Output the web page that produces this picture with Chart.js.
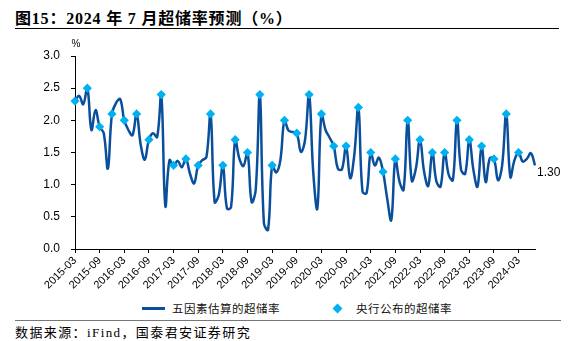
<!DOCTYPE html>
<html>
<head>
<meta charset="utf-8">
<script src="https://cdn.jsdelivr.net/npm/chart.js@4.4.1/dist/chart.umd.min.js"></script>
<style>
  body { margin: 0; background: #fff; }
  #wrap { position: relative; width: 572px; height: 341px; overflow: hidden; font-family: "Liberation Serif", "Noto Sans CJK SC", serif; }
  #title { position: absolute; left: 15px; top: 5px; font-size: 16px; font-weight: bold; color: #000; white-space: nowrap; letter-spacing: 0.8px; }
  #topRule { position: absolute; left: 15px; top: 28px; width: 544px; height: 1px; background: #000; }
  #bottomRule { position: absolute; left: 15px; top: 320px; width: 546px; height: 1px; background: #777; }
  #source { position: absolute; left: 15px; top: 322px; font-size: 13px; color: #000; white-space: nowrap; letter-spacing: 1.4px; }
  #cv { position: absolute; left: 0; top: 30px; }
  .lg { position: absolute; font-family: "Noto Sans CJK SC", sans-serif; font-size: 11.5px; color: #111; white-space: nowrap; top: 300px; letter-spacing: 0.5px; }
  #lgLine { position: absolute; left: 142px; top: 307px; width: 23px; height: 3px; background: #0a4f9c; }
  #lgDiamond { position: absolute; left: 334px; top: 305px; width: 7px; height: 7px; background: #00b0f0; transform: rotate(45deg); }
</style>
</head>
<body>
<div id="wrap">
  <div id="title">图15：2024 年 7 月超储率预测（%）</div>
  <div id="topRule"></div>
  <canvas id="cv" width="572" height="268"></canvas>
  <div id="lgLine"></div>
  <div class="lg" style="left:172px">五因素估算的超储率</div>
  <div id="lgDiamond"></div>
  <div class="lg" style="left:356px">央行公布的超储率</div>
  <div id="bottomRule"></div>
  <div id="source">数据来源：iFind，国泰君安证券研究</div>
</div>
<script>
// 月度：2015-03 ~ 2024-07
var startYear = 2015, startMonth = 3, monthCount = 113;
var months = [];
for (var i = 0; i < monthCount; i++) {
    var m = startMonth - 1 + i;
    var y = startYear + Math.floor(m / 12);
    var mm = (m % 12) + 1;
    months.push(y + '-' + (mm < 10 ? '0' + mm : mm));
}

// 五因素估算的超储率（月度）
var estValues = [
    2.30, 2.38, 2.25, 2.50, 1.85, 2.16, 1.90, 1.80, 1.25, 2.10,
    2.27, 2.33, 2.00, 1.85, 1.77, 2.10, 1.62, 1.39, 1.70, 1.80,
    1.74, 2.40, 0.67, 1.38, 1.30, 1.37, 1.27, 1.40, 1.17, 1.02,
    1.30, 1.38, 1.43, 2.10, 0.73, 0.84, 1.30, 0.63, 0.65, 1.70,
    1.41, 1.29, 1.50, 0.73, 0.92, 2.40, 0.40, 0.30, 1.30, 1.19,
    1.38, 2.00, 1.84, 1.82, 1.80, 1.51, 1.69, 2.40, 1.20, 0.63,
    2.10, 1.85, 1.73, 1.60, 1.25, 1.24, 1.60, 1.10, 1.46, 2.20,
    0.89, 0.87, 1.50, 1.30, 1.42, 1.20, 0.79, 0.45, 1.40, 1.05,
    0.92, 2.00, 1.06, 1.25, 1.70, 1.20, 0.98, 1.50, 1.05, 0.97,
    1.50, 1.15, 1.07, 2.00, 1.23, 1.17, 1.70, 1.23, 0.97, 1.60,
    1.04, 1.41, 1.40, 1.07, 1.30, 2.10, 1.12, 1.38, 1.50, 1.36,
    1.40, 1.49, 1.30
];

// 央行公布的超储率（季度，2015Q1 ~ 2024Q1）
var pbocValues = [
    2.3, 2.5, 1.9, 2.1,
    2.0, 2.1, 1.7, 2.4,
    1.3, 1.4, 1.3, 2.1,
    1.3, 1.7, 1.5, 2.4,
    1.3, 2.0, 1.8, 2.4,
    2.1, 1.6, 1.6, 2.2,
    1.5, 1.2, 1.4, 2.0,
    1.7, 1.5, 1.5, 2.0,
    1.7, 1.6, 1.4, 2.1,
    1.5
];

var yTicks = [0, 0.5, 1.0, 1.5, 2.0, 2.5, 3.0];

var pbocMonthly = months.map(function (m, i) {
    return (i % 3 === 0 && pbocValues[i / 3] !== undefined) ? pbocValues[i / 3] : null;
});

var extraText = {
    id: 'extraText',
    afterDraw: function (chart) {
        var ctx = chart.ctx, area = chart.chartArea;
        var xs = chart.scales.x, ys = chart.scales.y;
        ctx.save();
        ctx.fillStyle = '#000';
        ctx.font = '10px "Liberation Sans", sans-serif';
        ctx.textAlign = 'center';
        ctx.textBaseline = 'middle';
        ctx.fillText('%', area.left + 1, area.top - 12);

        var last = estValues.length - 1;
        ctx.font = '12px "Liberation Sans", sans-serif';
        ctx.textAlign = 'left';
        ctx.fillText(estValues[last].toFixed(2), xs.getPixelForValue(last) + 2, ys.getPixelForValue(estValues[last]) + 7);
        ctx.restore();
    }
};

var ctx = document.getElementById('cv').getContext('2d');
var chart = new Chart(ctx, {
    type: 'line',
    data: {
        labels: months,
        datasets: [{
            label: '央行公布的超储率',
            data: pbocMonthly,
            showLine: false,
            pointStyle: 'rectRot',
            pointRadius: 4.6,
            pointBackgroundColor: '#00b0f0',
            pointBorderColor: '#00b0f0',
            pointBorderWidth: 0,
            order: 0
        }, {
            label: '五因素估算的超储率',
            data: estValues,
            borderColor: '#0a4f9c',
            borderWidth: 2.5,
            pointRadius: 0,
            tension: 0.4,
            fill: false,
            order: 1
        }]
    },
    options: {
        responsive: false,
        animation: false,
        layout: { padding: { top: 26, right: 37, left: 0, bottom: 0 } },
        plugins: {
            legend: { display: false },
            tooltip: { enabled: false }
        },
        scales: {
            x: {
                type: 'category',
                offset: false,
                afterFit: function (scale) { scale.height = 49; },
                border: { display: true, color: '#000', width: 1 },
                grid: { drawOnChartArea: false, drawTicks: true, tickLength: 4, color: '#000' },
                ticks: {
                    autoSkip: false,
                    maxRotation: 45,
                    minRotation: 45,
                    padding: 1,
                    color: '#000',
                    font: { family: '"Liberation Sans", sans-serif', size: 11 },
                    callback: function (v, i) { return i % 6 === 0 ? months[i] : null; }
                }
            },
            y: {
                min: 0,
                max: 3,
                afterFit: function (scale) { scale.width = 75; },
                afterBuildTicks: function (scale) {
                    scale.ticks = yTicks.map(function (v) { return { value: v }; });
                },
                border: { display: true, color: '#000', width: 1 },
                grid: { drawOnChartArea: false, drawTicks: true, tickLength: 4, color: '#000' },
                ticks: {
                    padding: 11,
                    color: '#000',
                    font: { family: '"Liberation Sans", sans-serif', size: 12 },
                    callback: function (v) { return v.toFixed(1); }
                }
            }
        }
    },
    plugins: [extraText]
});
</script>
</body>
</html>
